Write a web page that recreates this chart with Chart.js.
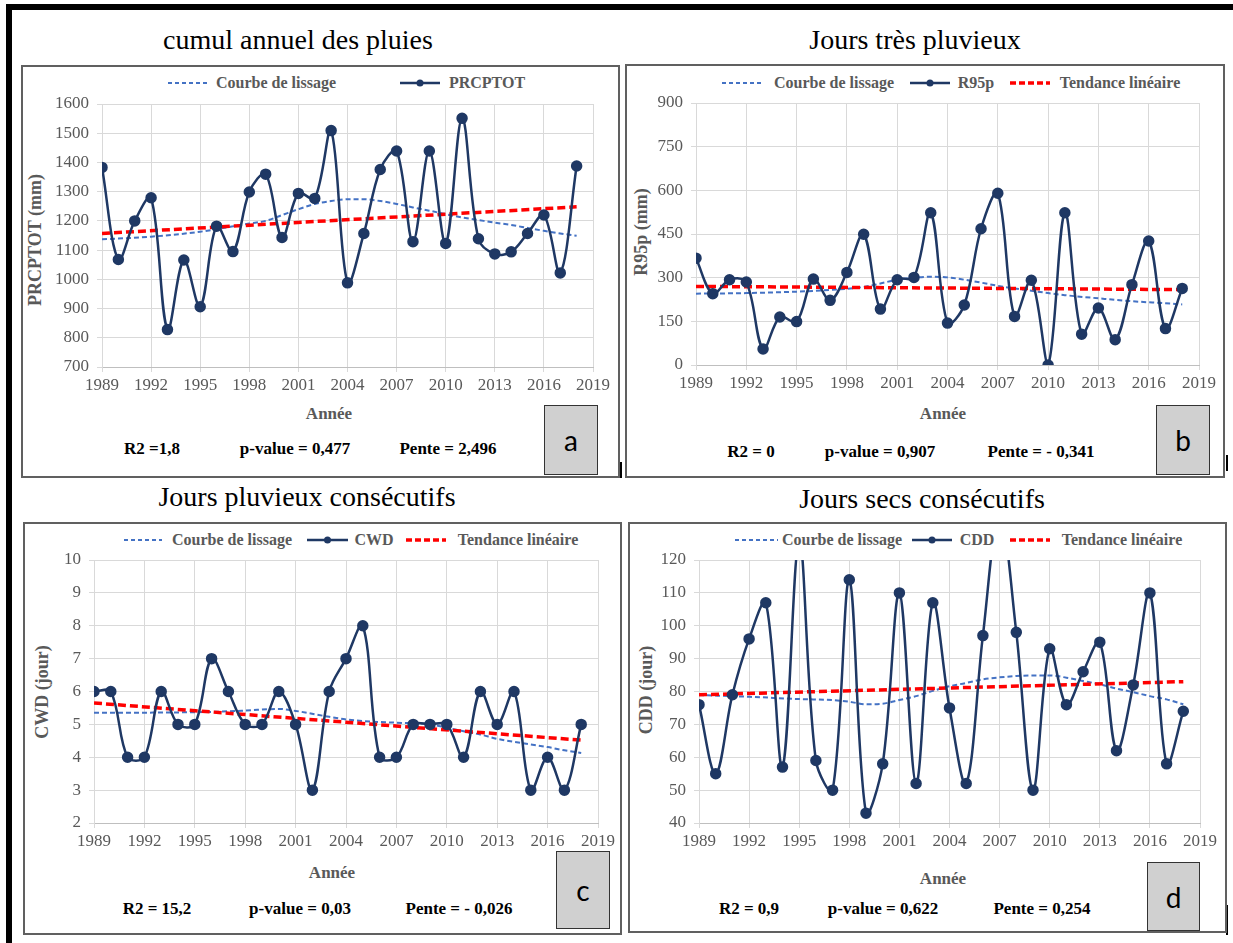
<!DOCTYPE html>
<html><head><meta charset="utf-8">
<script src="https://cdn.jsdelivr.net/npm/chart.js@4.4.0/dist/chart.umd.min.js"></script>
<style>
body{margin:0;width:1233px;height:943px;background:#fff;position:relative;overflow:hidden;font-family:"Liberation Serif","Times New Roman",serif;}
.abs{position:absolute;}
.box{position:absolute;border:2px solid #606060;box-sizing:border-box;}
.t{position:absolute;transform:translate(-50%,-50%);white-space:nowrap;line-height:1;}
.title{font-size:28px;color:#000;font-weight:normal;}
.leg{font-size:16px;font-weight:bold;color:#595959;}
.stat{font-size:17px;font-weight:bold;color:#000;}
.axt{font-size:17px;font-weight:bold;color:#595959;}
.lab{position:absolute;background:#d0d0d0;border:1.5px solid #333;box-sizing:border-box;font-family:Lato,sans-serif;font-size:28px;display:flex;align-items:center;justify-content:center;color:#000;}
canvas{position:absolute;}
</style>
</head>
<body>
<div class="abs" style="left:6px;top:4px;width:6px;height:939px;background:#000"></div>
<div class="abs" style="left:6px;top:4px;width:1227px;height:6px;background:#000"></div>
<div class="abs" style="left:619px;top:462px;width:3px;height:16px;background:#000"></div>
<div class="abs" style="left:1226px;top:455px;width:2px;height:16px;background:#000"></div>
<div class="abs" style="left:1226px;top:905px;width:2px;height:30px;background:#000"></div>
<div id="root"></div>
<script>
// ---------- DATA ----------
const years = [1989,1990,1991,1992,1993,1994,1995,1996,1997,1998,1999,2000,2001,2002,2003,2004,2005,2006,2007,2008,2009,2010,2011,2012,2013,2014,2015,2016,2017,2018];
const prcptot = [1383,1068,1200,1279,828,1066,906,1182,1095,1299,1360,1143,1294,1277,1509,988,1157,1376,1439,1129,1439,1123,1551,1139,1087,1094,1157,1220,1022,1388];
const r95p = [367,245,293,285,55,165,149,295,222,318,449,192,293,301,523,144,206,468,590,167,291,0,523,106,196,87,276,426,125,263];
const cwd = [6,6,4,4,6,5,5,7,6,5,5,6,5,3,6,7,8,4,4,5,5,5,4,6,5,6,3,4,3,5];
const cdd = [76,55,79,96,107,57,126,59,50,114,43,58,110,52,107,75,52,97,135,98,50,93,76,86,95,62,82,110,58,74];

const smoothYearsA = [1989,1992,1995,1998,1999,2000,2001,2002,2003,2004,2005,2006,2007,2008,2009,2010,2011,2012,2013,2014,2015,2016,2017,2018];
const smoothA = [1137,1146,1163,1191,1200,1220,1240,1258,1268,1274,1274,1268,1258,1246,1235,1223,1212,1203,1194,1186,1176,1166,1157,1149];
const smoothYearsB = [1989,1992,1995,1997,1999,2000,2001,2002,2003,2004,2005,2006,2007,2008,2009,2010,2011,2013,2015,2017,2018];
const smoothB = [245,247,252,258,268,280,293,300,303,301,293,283,272,263,255,247,240,229,219,212,208];
const smoothYearsC = [1989,1993,1996,1998,2000,2001,2003,2004,2005,2007,2009,2010,2011,2012,2013,2015,2016,2017,2018];
const smoothC = [5.35,5.36,5.38,5.42,5.47,5.41,5.23,5.15,5.10,5.05,5.0,4.9,4.79,4.69,4.56,4.39,4.31,4.21,4.13];
const smoothYearsD = [1989,1992,1995,1997,1998,1999,2000,2001,2002,2003,2004,2005,2006,2007,2008,2009,2010,2011,2012,2013,2014,2015,2016,2017,2018];
const smoothD = [78.9,78.4,77.7,77.4,76.9,76.1,76.3,77.4,78.6,80.2,81.6,82.6,83.7,84.3,84.7,84.9,84.9,84.2,83.2,82.2,80.9,79.8,78.6,77.6,76.1];

const trendYears = [1989,2018];
const trendA = [1157,1248];
const trendB = [270,259];
const trendC = [5.65,4.52];
const trendD = [79,83];

const xMin = 1989, xMax = 2019, xStep = 3;
const yA = [700,1600,100], yB = [0,900,150], yC = [2,10,1], yD = [40,120,10];

const titles = ["cumul annuel des pluies","Jours très pluvieux","Jours pluvieux consécutifs","Jours secs consécutifs"];
const seriesNames = ["PRCPTOT","R95p","CWD","CDD"];
const yTitles = ["PRCPTOT (mm)","R95p (mm)","CWD (jour)","CDD (jour)"];
const statsA = ["R2 =1,8","p-value = 0,477","Pente = 2,496"];
const statsB = ["R2 = 0","p-value = 0,907","Pente = - 0,341"];
const statsC = ["R2 = 15,2","p-value = 0,03","Pente = - 0,026"];
const statsD = ["R2 = 0,9","p-value = 0,622","Pente = 0,254"];
const smoothName = "Courbe de lissage", trendName = "Tendance linéaire", xTitle = "Année";
const letters = ["a","b","c","d"];

// ---------- LAYOUT ----------
const SERIF = "'Liberation Serif','Times New Roman',serif";
const NAVY = '#1f3864', BLUE = '#4472c4', RED = '#ff0000';
const root = document.getElementById('root');
function el(html){ const d=document.createElement('div'); d.innerHTML=html; const n=d.firstChild; root.appendChild(n); return n; }
function txt(x,y,s,cls,extra){ el(`<div class="t ${cls}" style="left:${x}px;top:${y}px;${extra||''}">${s}</div>`); }
function legLine(x1,x2,y,kind){
  const w=x2-x1; let inner='';
  if(kind==='smooth') inner=`<line x1="0" y1="6" x2="${w}" y2="6" stroke="${BLUE}" stroke-width="2" stroke-dasharray="4 3"/>`;
  if(kind==='trend') inner=`<line x1="0" y1="6" x2="${w}" y2="6" stroke="${RED}" stroke-width="3.5" stroke-dasharray="6 3"/>`;
  if(kind==='main') inner=`<line x1="0" y1="6" x2="${w}" y2="6" stroke="${NAVY}" stroke-width="2.5"/><circle cx="${w/2}" cy="6" r="3.5" fill="${NAVY}"/>`;
  el(`<svg class="abs" style="left:${x1}px;top:${y-6}px" width="${w}" height="12">${inner}</svg>`);
}

const panels = [
 {box:[21,65,620,478], plot:[102,593,104,367], y:yA, data:prcptot, smY:smoothYearsA, sm:smoothA, tr:trendA, stats:statsA,
  title:[298,40], leg:{y:83, items:[['smooth',168,208,276],['main',400,440,487]]}, statY:448, statX:[152,295,448],
  axt:[329,413], yt:[35,240], lab:[544,405,598,475]},
 {box:[625,64,1225,478], plot:[696,1199,103,365], y:yB, data:r95p, smY:smoothYearsB, sm:smoothB, tr:trendB, stats:statsB,
  title:[915,40], leg:{y:83, items:[['smooth',722,764,834],['main',910,950,976],['trend',1010,1050,1120]]}, statY:451, statX:[751,880,1041],
  axt:[943,413], yt:[641,232], lab:[1156,405,1210,475]},
 {box:[23,522,622,935], plot:[94,598,560,823], y:yC, data:cwd, smY:smoothYearsC, sm:smoothC, tr:trendC, stats:statsC,
  title:[307,497], leg:{y:540, items:[['smooth',124,162,232],['main',307,348,374],['trend',406,446,518]]}, statY:908, statX:[157,300,459],
  axt:[332,872], yt:[42,692], lab:[556,851,610,929]},
 {box:[628,522,1227,933], plot:[699,1200,560,823], y:yD, data:cdd, smY:smoothYearsD, sm:smoothD, tr:trendD, stats:statsD,
  title:[922,499], leg:{y:540, items:[['smooth',735,778,842],['main',912,952,977],['trend',1010,1050,1122]]}, statY:908, statX:[749,883,1042],
  axt:[943,878], yt:[646,690], lab:[1147,862,1200,931]}
];

panels.forEach((p,i)=>{
  const [bx1,by1,bx2,by2]=p.box;
  el(`<div class="box" style="left:${bx1}px;top:${by1}px;width:${bx2-bx1}px;height:${by2-by1}px"></div>`);
  txt(p.title[0],p.title[1],titles[i],'title');
  const names={smooth:smoothName, main:seriesNames[i], trend:trendName};
  p.leg.items.forEach(([k,x1,x2,tx])=>{ legLine(x1,x2,p.leg.y,k); txt(tx,p.leg.y,names[k],'leg'); });
  p.stats.forEach((s,j)=>txt(p.statX[j],p.statY,s,'stat'));
  txt(p.axt[0],p.axt[1],xTitle,'axt');
  txt(p.yt[0],p.yt[1],yTitles[i],'axt','transform:translate(-50%,-50%) rotate(-90deg);font-size:18px;');
  const [lx1,ly1,lx2,ly2]=p.lab;
  el(`<div class="lab" style="left:${lx1}px;top:${ly1}px;width:${lx2-lx1}px;height:${ly2-ly1}px">${letters[i]}</div>`);

  const [L,R,T,B]=p.plot;
  const x0=bx1+2, y0=by1+2, x1=bx2-2, y1=B+40;
  const cw=x1-x0, ch=y1-y0;
  const cv=document.createElement('canvas');
  cv.width=cw; cv.height=ch; cv.style.left=x0+'px'; cv.style.top=y0+'px'; cv.style.width=cw+'px'; cv.style.height=ch+'px';
  root.appendChild(cv);
  const mainPts = years.map((yr,k)=>({x:yr,y:p.data[k]}));
  const smPts = p.smY.map((yr,k)=>({x:yr,y:p.sm[k]}));
  const trPts = trendYears.map((yr,k)=>({x:yr,y:p.tr[k]}));
  new Chart(cv,{
    type:'line',
    data:{datasets:[
      {label:seriesNames[i], data:mainPts, borderColor:NAVY, backgroundColor:NAVY, borderWidth:2.5, pointRadius:4.5, pointHoverRadius:4.5, tension:0.35, order:0},
      {label:trendName, data:trPts, borderColor:RED, borderWidth:3.5, borderDash:[8,4], pointRadius:0, tension:0, order:1},
      {label:smoothName, data:smPts, borderColor:BLUE, borderWidth:2, borderDash:[5,3], pointRadius:0, cubicInterpolationMode:'monotone', order:2}
    ]},
    options:{
      responsive:false, animation:false, devicePixelRatio:1,
      layout:{padding:{top:T-y0, right:x1-R, left:0, bottom:0}},
      plugins:{legend:{display:false}, tooltip:{enabled:false}},
      scales:{
        x:{type:'linear', min:xMin, max:xMax,
           ticks:{stepSize:xStep, autoSkip:false, maxRotation:0, color:'#595959', padding:3,
                  font:{family:SERIF, size:17}, callback:v=>String(v)},
           grid:{color:'#d9d9d9', tickLength:5, lineWidth:1},
           border:{color:'#bfbfbf'},
           afterFit:s=>{s.height=y1-B;}},
        y:{min:p.y[0], max:p.y[1],
           ticks:{stepSize:p.y[2], color:'#595959', padding:8, font:{family:SERIF, size:17}, callback:v=>String(v)},
           grid:{color:'#d9d9d9', tickLength:5, lineWidth:1},
           border:{color:'#d9d9d9'},
           afterFit:s=>{s.width=L-x0;}}
      }
    }
  });
});
</script>
</body></html>
